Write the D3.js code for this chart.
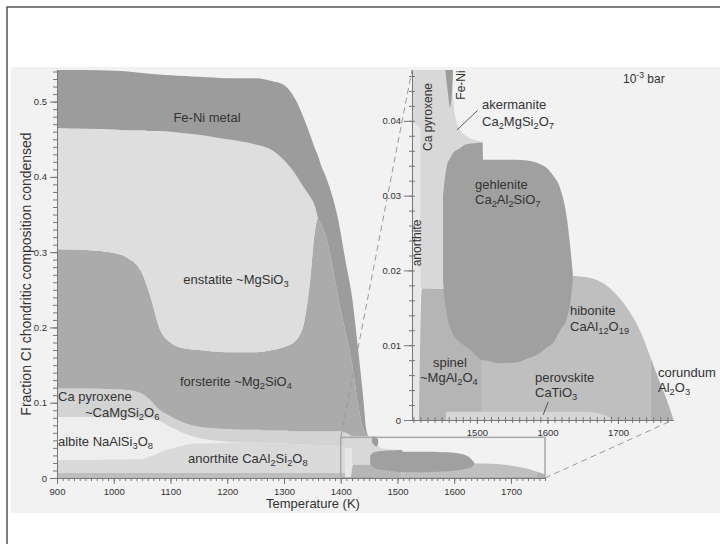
<!DOCTYPE html>
<html>
<head>
<meta charset="utf-8">
<script src="https://cdn.jsdelivr.net/npm/d3@7"></script>
<style>
  body { margin: 0; background: #fff; }
  text { font-family: "Liberation Sans", Arial, sans-serif; fill: #333; white-space: pre; }
</style>
</head>
<body>
<script>
// ---- main chart: boundaries between the stacked phases (fraction condensed) ----
var temps        = [900, 950, 1000, 1025, 1050, 1065, 1080, 1100, 1125, 1150, 1175, 1200, 1225, 1250, 1280, 1300, 1320, 1335, 1345, 1355, 1360, 1365, 1375, 1385, 1395, 1400, 1408, 1420, 1430, 1440, 1445, 1450];
var bandTop      = [.0066, .0066, .0066, .0066, .0066, .0066, .0066, .0066, .0066, .0066, .0066, .0066, .0066, .0066, .0066, .0066, .0066, .0066, .0066, .0066, .0066, .0066, .0066, .0066, .0066, .0066, .0066, .0066, .0066, .0066, .0066, .0066];
var anorthiteTop = [.024, .024, .025, .025, .026, .029, .034, .039, .044, .046, .046, .047, .047, .047, .046, .046, .045, .045, .045, .044, .044, .044, .044, .044, .044, .044, .044, .044, .044, .044, .044, .044];
var albiteTop    = [.081, .081, .080, .080, .079, .079, .076, .068, .059, .053, .050, .048, .047, .047, .046, .046, .045, .045, .045, .044, .044, .044, .044, .044, .044, .044, .044, .044, .044, .044, .044, .044];
var cpxTop       = [.119, .119, .118, .117, .112, .103, .091, .082, .073, .068, .066, .065, .064, .064, .063, .063, .062, .062, .062, .062, .062, .062, .062, .062, .062, .062, .060, .055, .055, .055, .055, .055];
var forsteriteTop= [.304, .303, .299, .292, .272, .240, .200, .180, .172, .170, .168, .167, .167, .167, .170, .174, .182, .205, .255, .330, .345, .338, .318, .283, .243, .224, .195, .152, .100, .065, .058, .055];
var enstatiteTop = [.465, .464, .463, .462, .462, .461, .461, .460, .458, .456, .453, .450, .447, .443, .435, .422, .404, .386, .375, .360, .345, .338, .318, .283, .243, .224, .195, .152, .100, .065, .058, .055];
var feniTop      = [.542, .542, .541, .540, .538, .537, .536, .535, .534, .533, .532, .531, .531, .531, .527, .522, .503, .478, .458, .437, .428, .416, .398, .375, .345, .325, .290, .240, .175, .104, .064, .055];
var lowEnd = 1408;   // the low-T phases stop where the high-T ones take over

// ---- inset (10^-3 bar): [T, lower, upper] ----
var cpxIn = [[1408, .0397, .060], [1419, .0390, .056], [1420, .0176, .0555], [1452, .0176, .055], [1455, .0327, .055], [1458, .0343, .055],
             [1463, .0352, .052], [1466, .0357, .0436], [1470, .0361, .0403], [1477, .0364, .0387], [1490, .0368, .0377], [1508, .0371, .0372]];
var anorthiteIn = [[1408, 0, .0397], [1414, 0, .0395], [1417, 0, .0391], [1420, 0, .0390]];
var spinelIn = [[1418, 0, 0], [1422, 0, .0176], [1460, 0, .0175], [1507, 0, .0170]];
var hiboniteIn = [[1507, 0, .0196], [1600, 0, .0196], [1636, 0, .0193], [1665, 0, .0189], [1689, 0, .0176], [1712, 0, .0151], [1731, 0, .0120], [1746, 0, .0084]];
var corundumIn = [[1746, 0, .0084], [1752, 0, .0069], [1760, 0, .0049], [1771, 0, .0022], [1778, 0, .0002]];
var perovskiteIn = [[1456, 0, .0011], [1650, 0, .0011], [1672, 0, .0009], [1685, 0, .0005], [1692, 0, .0001]];
var gehleniteIn = [[1452, .0183, .0300], [1455, .0155, .0327], [1458, .0138, .0343], [1462, .0124, .0350], [1466, .0115, .0357], [1475, .0105, .0363],
                   [1486, .0097, .0369], [1497, .0088, .0370], [1508, .0080, .0371], [1509, .0080, .0348], [1533, .0076, .0348], [1555, .0077, .0348],
                   [1571, .0082, .0347], [1590, .0090, .0342], [1599, .0097, .0337], [1608, .0103, .0327], [1618, .0120, .0310], [1628, .0137, .0267],
                   [1633, .0160, .0225], [1636, .0190, .0196]];
var feniIn = [[1455, .0470, .055], [1459, .0437, .055], [1462, .0418, .055], [1464, .0430, .053], [1466, .0460, .050]];

// ticks
var mainYTicks = [0, 0.1, 0.2, 0.3, 0.4, 0.5];
var mainXTicks = [900, 1000, 1100, 1200, 1300, 1400, 1500, 1600, 1700];
var insetYTicks = [0, 0.01, 0.02, 0.03, 0.04];
var insetXTicks = [1500, 1600, 1700];

var svg = d3.select("body").append("svg").attr("width", 720).attr("height", 544);

// frame and grey panel
svg.append("rect").attr("x", 11).attr("y", 67).attr("width", 709).attr("height", 446).attr("fill", "#f2f2f2");
svg.append("rect").attr("x", 7).attr("y", 7).attr("width", 730).attr("height", 600)
  .attr("fill", "none").attr("stroke", "#555").attr("stroke-width", 1.5);

// scales
var xM = d3.scaleLinear().domain([900, 1760]).range([57, 545]);
var yM = d3.scaleLinear().domain([0, 0.542]).range([478, 70]);
var xI = d3.scaleLinear().domain([1408, 1778]).range([412, 673]);
var yI = d3.scaleLinear().domain([0, 0.0468]).range([420, 70]);

var defs = svg.append("defs");
defs.append("clipPath").attr("id", "clipMain").append("rect")
  .attr("x", 57).attr("y", 68).attr("width", 488).attr("height", 410);
defs.append("clipPath").attr("id", "clipInset").append("rect")
  .attr("x", 412).attr("y", 70).attr("width", 261).attr("height", 350);

// main stacked phases
var zeros = temps.map(function() { return 0; });
var mainLayers = [
  [zeros, bandTop, "#bdbdbd", true],
  [bandTop, anorthiteTop, "#dadada", true],
  [anorthiteTop, albiteTop, "#eeeeee", true],
  [albiteTop, cpxTop, "#d3d3d3", true],
  [cpxTop, forsteriteTop, "#ababab", false],
  [forsteriteTop, enstatiteTop, "#dedede", false],
  [enstatiteTop, feniTop, "#9c9c9c", false]
];

var gMain = svg.append("g").attr("clip-path", "url(#clipMain)");
mainLayers.forEach(function(L) {
  var area = d3.area()
    .defined(function(i) { return !L[3] || temps[i] <= lowEnd; })
    .x(function(i) { return xM(temps[i]); })
    .y0(function(i) { return yM(L[0][i]); })
    .y1(function(i) { return yM(L[1][i]); })
    .curve(d3.curveMonotoneX);
  gMain.append("path").attr("d", area(d3.range(temps.length))).attr("fill", L[2]);
});

// high temperature phases (shared by main chart and inset)
var insetLayers = [
  [cpxIn, "#d8d8d8"],
  [anorthiteIn, "#e7e7e7"],
  [spinelIn, "#b5b5b5"],
  [hiboniteIn, "#bfbfbf"],
  [corundumIn, "#b2b2b2"],
  [perovskiteIn, "#d6d6d6"],
  [gehleniteIn, "#a0a0a0"],
  [feniIn, "#9c9c9c"]
];
function drawPhases(g, x, y) {
  insetLayers.forEach(function(L) {
    var area = d3.area()
      .x(function(d) { return x(d[0]); })
      .y0(function(d) { return y(d[1]); })
      .y1(function(d) { return y(d[2]); })
      .curve(d3.curveMonotoneX);
    g.append("path").attr("d", area(L[0])).attr("fill", L[1]);
  });
}
drawPhases(gMain, xM, yM);

// zoom box in main chart
svg.append("rect")
  .attr("x", xM(1400)).attr("y", yM(0.054))
  .attr("width", xM(1760) - xM(1400)).attr("height", yM(0) - yM(0.054))
  .attr("fill", "none").attr("stroke", "#a8a8a8").attr("stroke-width", 1.5);

// dashed connectors
svg.append("line")
  .attr("x1", xM(1400)).attr("y1", yM(0.054)).attr("x2", xI(1408)).attr("y2", yI(0.0468))
  .attr("stroke", "#9a9a9a").attr("stroke-dasharray", "6,4");
svg.append("line")
  .attr("x1", xM(1760)).attr("y1", yM(0)).attr("x2", xI(1778)).attr("y2", yI(0))
  .attr("stroke", "#9a9a9a").attr("stroke-dasharray", "6,4");

// inset
var gIn = svg.append("g").attr("clip-path", "url(#clipInset)");
drawPhases(gIn, xI, yI);

// axes
function styleAxis(g) {
  g.selectAll("path.domain").attr("stroke", "#777");
  g.selectAll("line").attr("stroke", "#777");
  g.selectAll("text").attr("fill", "#444").attr("font-size", 9.5)
    .attr("font-family", "Liberation Sans, Arial, sans-serif");
}
var fmtMain = function(d) { return d === 0 ? "0" : d3.format(".1f")(d); };
var fmtIn = function(d) { return d === 0 ? "0" : d3.format(".2f")(d); };

// main y
svg.append("g").attr("transform", "translate(57,0)")
  .call(d3.axisLeft(yM).tickValues(d3.range(0, 0.5401, 0.01)).tickSize(4).tickSizeOuter(0).tickFormat(""))
  .call(styleAxis);
svg.append("g").attr("transform", "translate(57,0)")
  .call(d3.axisLeft(yM).tickValues(mainYTicks).tickSize(7).tickPadding(3).tickSizeOuter(0).tickFormat(fmtMain))
  .call(styleAxis);
// main x
svg.append("g").attr("transform", "translate(0,478)")
  .call(d3.axisBottom(xM).tickValues(d3.range(900, 1761, 10)).tickSize(3).tickSizeOuter(0).tickFormat(""))
  .call(styleAxis);
svg.append("g").attr("transform", "translate(0,478)")
  .call(d3.axisBottom(xM).tickValues(mainXTicks).tickSize(6).tickPadding(4).tickSizeOuter(0).tickFormat(d3.format("d")))
  .call(styleAxis);

// inset y
var iy1 = svg.append("g").attr("transform", "translate(412,0)")
  .call(d3.axisLeft(yI).tickValues(d3.range(0, 0.0467, 0.002)).tickSize(3).tickSizeOuter(0).tickFormat(""))
  .call(styleAxis);
iy1.selectAll(".tick line").attr("x1", 3);
svg.append("g").attr("transform", "translate(412,0)")
  .call(d3.axisLeft(yI).tickValues(insetYTicks).tickSize(8).tickPadding(3).tickSizeOuter(0).tickFormat(fmtIn))
  .call(styleAxis);
// inset x
var ix1 = svg.append("g").attr("transform", "translate(0,420)")
  .call(d3.axisBottom(xI).tickValues(d3.range(1410, 1779, 10)).tickSize(3).tickSizeOuter(0).tickFormat(""))
  .call(styleAxis);
ix1.selectAll(".tick line").attr("y1", -3);
svg.append("g").attr("transform", "translate(0,420)")
  .call(d3.axisBottom(xI).tickValues(insetXTicks).tickSize(4).tickPadding(5).tickSizeOuter(0).tickFormat(d3.format("d")))
  .call(styleAxis);

// axis titles
svg.append("text").attr("x", 313).attr("y", 508).attr("text-anchor", "middle")
  .attr("font-size", 13).text("Temperature (K)");
svg.append("text").attr("transform", "translate(31,274) rotate(-90)").attr("text-anchor", "middle")
  .attr("font-size", 14).text("Fraction CI chondritic composition condensed");

// rich text with _sub and ^sup numbers
function rich(sel, str) {
  var parts = str.split(/([_^]-?\d+)/), shift = 0;
  parts.forEach(function(p) {
    if (!p) return;
    var t = sel.append("tspan"), d = 0;
    if (p[0] === "_") { d = 3; t.attr("font-size", "0.72em").text(p.slice(1)); }
    else if (p[0] === "^") { d = -5; t.attr("font-size", "0.72em").text(p.slice(1)); }
    else { t.text(p); }
    t.attr("dy", d - shift);
    shift = d;
  });
  return sel;
}
function label(x, y, str, size, anchor) {
  var t = svg.append("text").attr("x", x).attr("y", y).attr("font-size", size || 13)
    .attr("text-anchor", anchor || "start");
  return rich(t, str);
}
function vlabel(x, y, str, size) {
  svg.append("text").attr("transform", "translate(" + x + "," + y + ") rotate(-90)")
    .attr("text-anchor", "middle").attr("font-size", size || 12).text(str);
}

// main labels
label(207, 122, "Fe-Ni metal", 13, "middle");
label(236, 284, "enstatite ~MgSiO_3", 13, "middle");
label(180, 386, "forsterite ~Mg_2SiO_4");
label(58, 401, "Ca pyroxene");
label(85, 417, "~CaMgSi_2O_6");
label(58, 446, "albite NaAlSi_3O_8");
label(188, 463, "anorthite CaAl_2Si_2O_8");

// inset labels
label(623, 83, "10^-3 bar", 12);
vlabel(432, 117, "Ca pyroxene");
vlabel(465, 85, "Fe-Ni");
vlabel(421, 243, "anorthite");
label(482, 109, "akermanite");
label(482, 126, "Ca_2MgSi_2O_7");
label(475, 189, "gehlenite");
label(475, 204, "Ca_2Al_2SiO_7");
label(570, 315, "hibonite");
label(570, 331, "CaAl_12O_19");
label(433, 367, "spinel");
label(420, 382, "~MgAl_2O_4");
label(535, 382, "perovskite");
label(535, 397, "CaTiO_3");
label(658, 377, "corundum");
label(658, 392, "Al_2O_3");

// leader lines
svg.append("line").attr("x1", xI(1472)).attr("y1", yI(0.0388)).attr("x2", xI(1501)).attr("y2", yI(0.0414))
  .attr("stroke", "#333").attr("stroke-width", 0.8);
svg.append("line").attr("x1", xI(1594)).attr("y1", yI(0.0007)).attr("x2", xI(1601)).attr("y2", yI(0.0024))
  .attr("stroke", "#333").attr("stroke-width", 0.8);
</script>
</body>
</html>
